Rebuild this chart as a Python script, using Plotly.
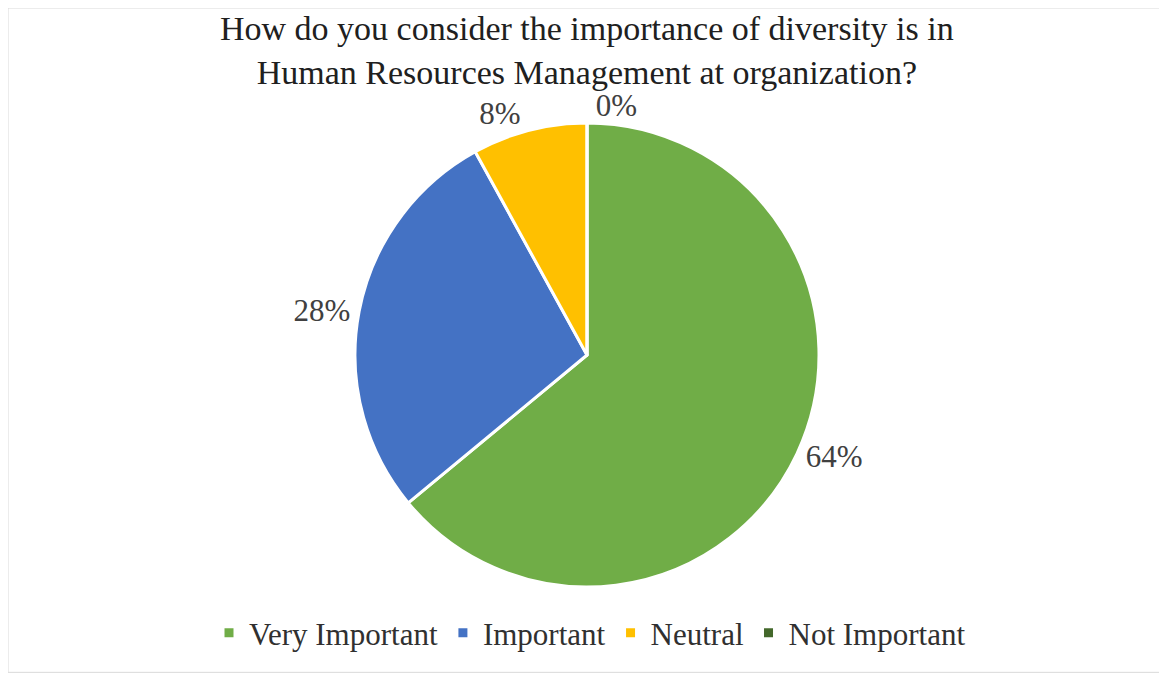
import plotly.graph_objects as go

categories = ["Very Important", "Important", "Neutral", "Not Important"]
values = [64, 28, 8, 0]
colors = ["#70AD47", "#4472C4", "#FFC000", "#43682B"]
title_lines = ["How do you consider the importance of diversity is in",
               "Human Resources Management at organization?"]

# page body adds an 8px offset; figure sized to fit the window
OFF = 8
W, H = 1167 - OFF, 675 - OFF
cx, cy, r = 587 - OFF, 355 - OFF, 232

fig = go.Figure(go.Pie(
    labels=categories,
    values=values,
    marker=dict(colors=colors, line=dict(color="white", width=3)),
    sort=False,
    direction="clockwise",
    rotation=0,
    textinfo="percent",
    texttemplate="%{percent:.0%}",
    textposition="outside",
    textfont=dict(family="Liberation Serif", size=31, color="#404040"),
    domain=dict(x=[(cx - r) / W, (cx + r) / W], y=[(H - cy - r) / H, (H - cy + r) / H]),
    showlegend=True,
    hoverinfo="label+percent",
))

fig.update_layout(
    width=W, height=H,
    margin=dict(l=0, r=0, t=0, b=0),
    paper_bgcolor="white",
    legend=dict(orientation="h", x=(590 - OFF) / W, xanchor="center", y=(675 - 633) / H, yanchor="middle",
                font=dict(family="Liberation Serif", size=31, color="#303030"),
                itemwidth=30, traceorder="normal"),
    annotations=[dict(text="<br>".join(title_lines), xref="paper", yref="paper",
                      x=(587 - OFF) / W, xanchor="center", y=1.0, yanchor="top",
                      showarrow=False, align="center",
                      font=dict(family="Liberation Serif", size=34, color="#202020"))],
    shapes=[dict(type="rect", xref="paper", yref="paper", x0=0.0, x1=0.994, y0=0.004, y1=1.0,
                 line=dict(color="#d9d9d9", width=1))],
)

fig.write_html("out.html")
